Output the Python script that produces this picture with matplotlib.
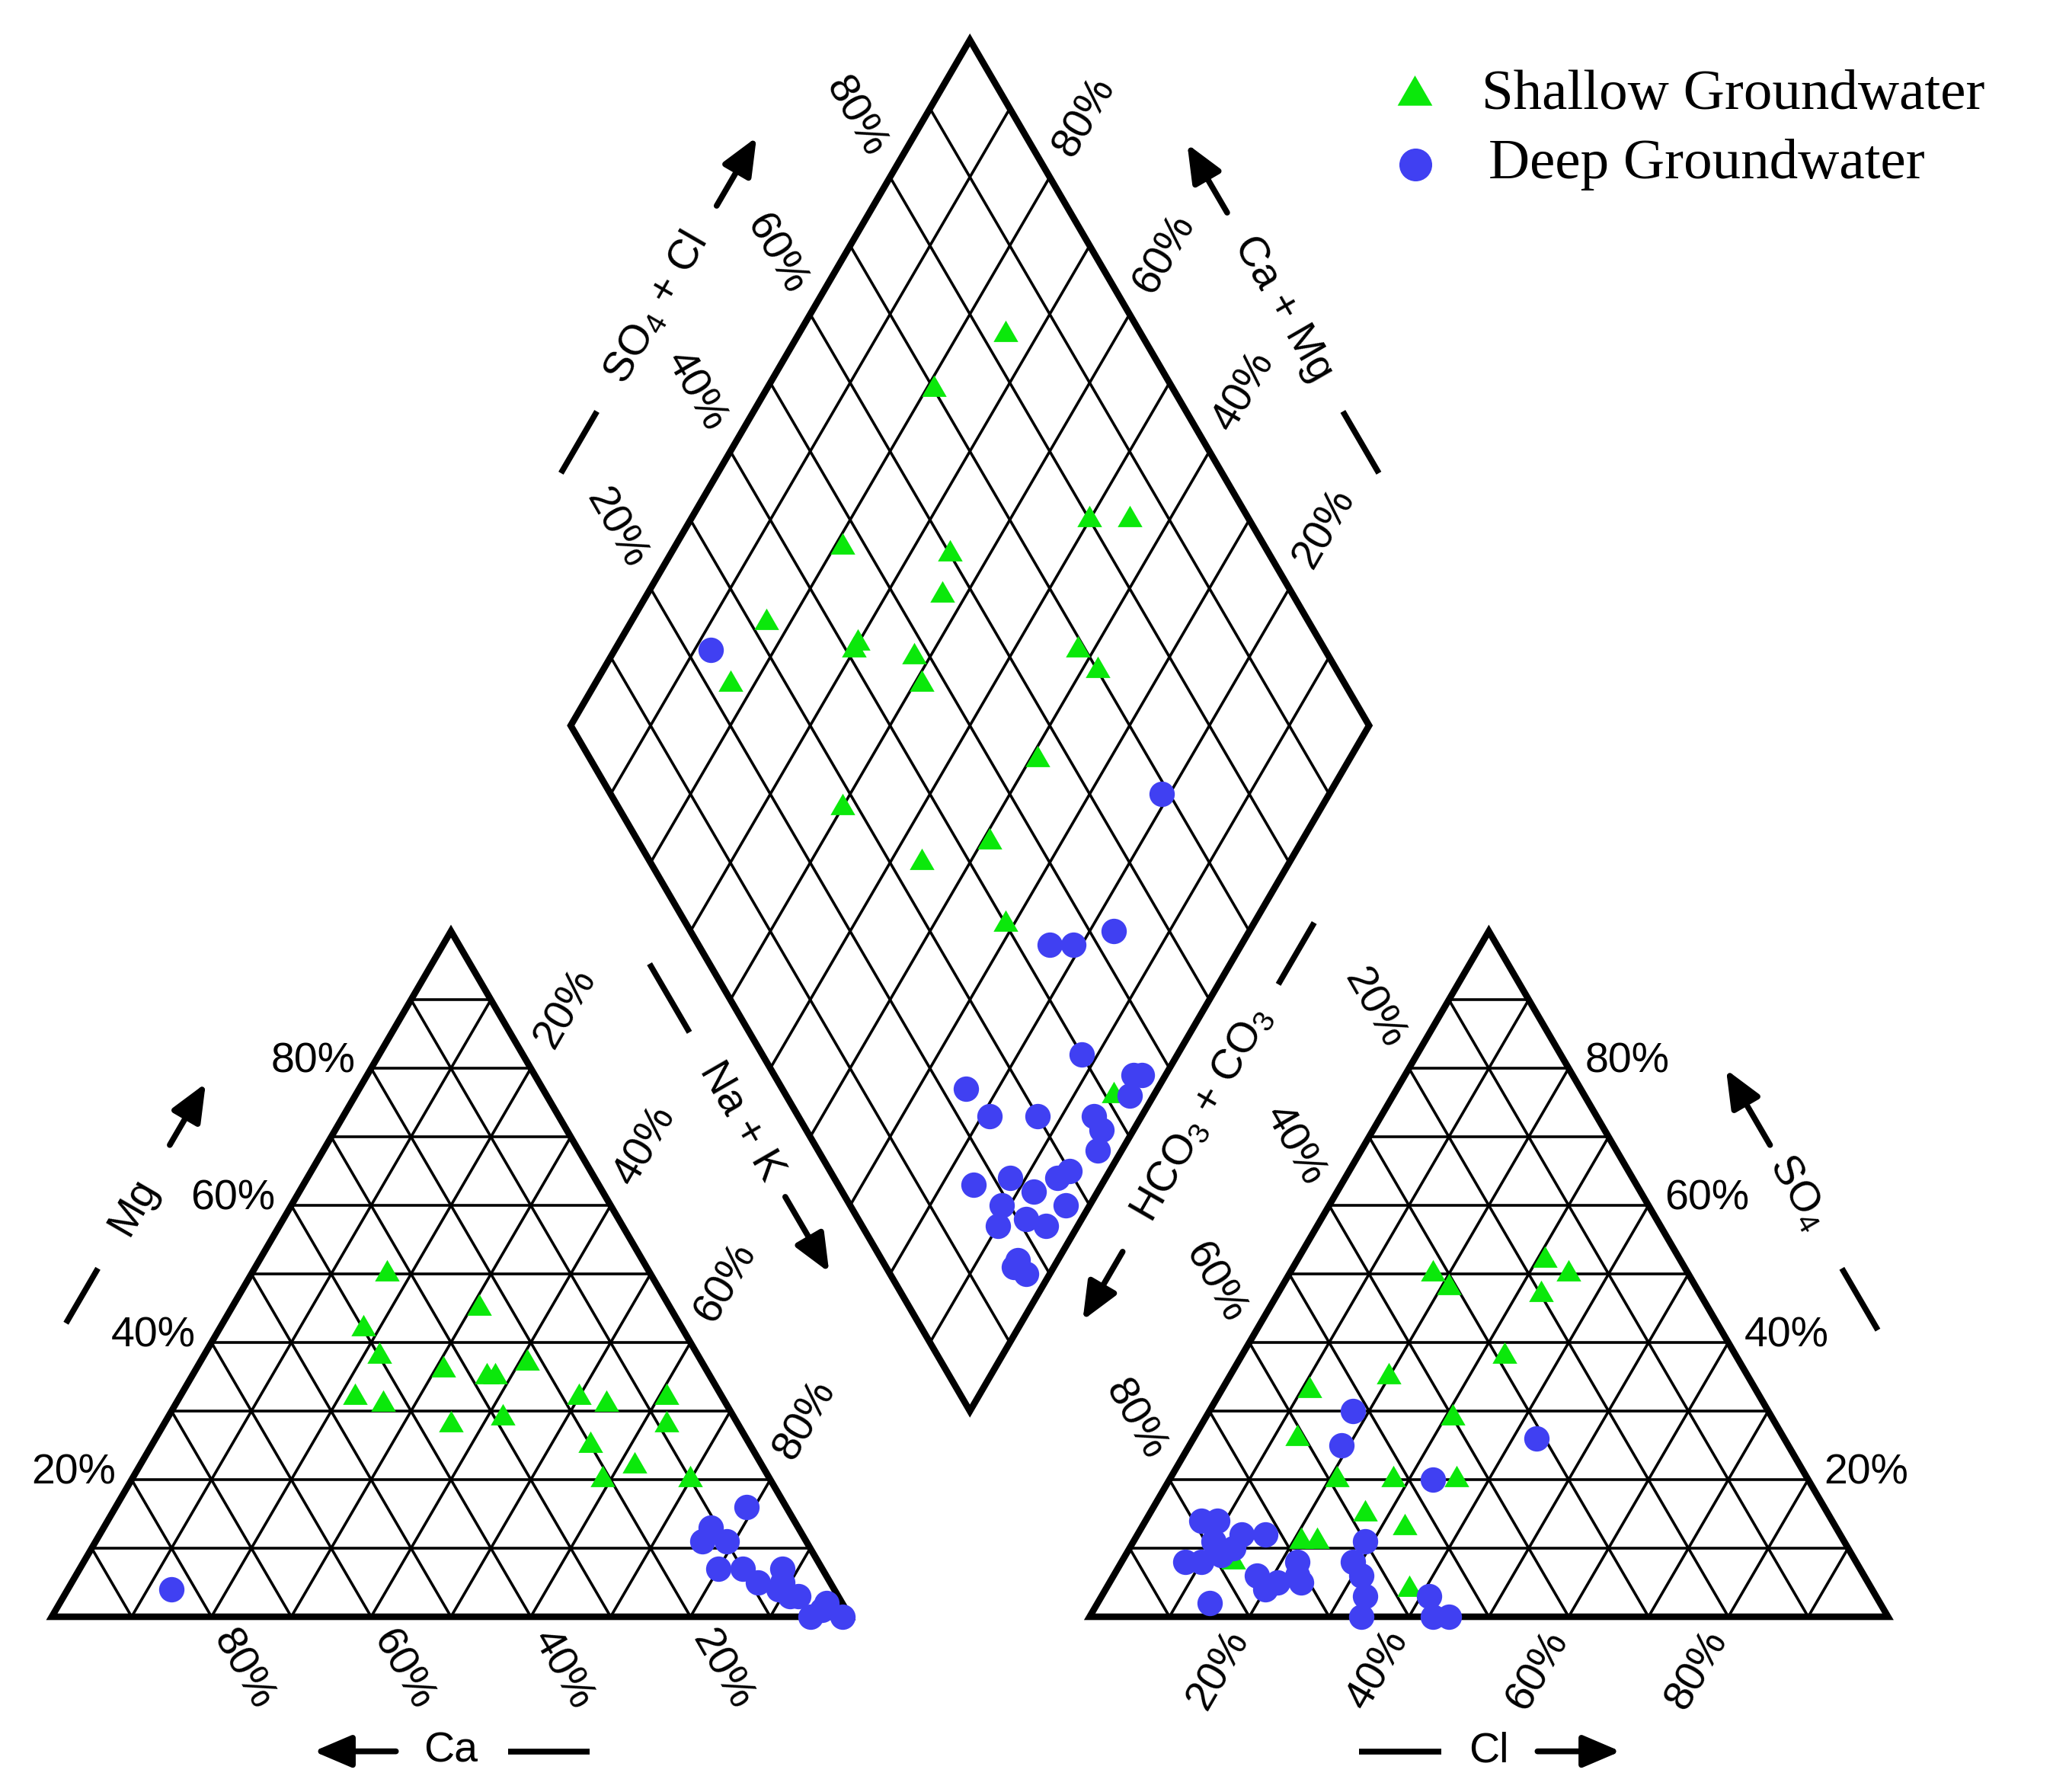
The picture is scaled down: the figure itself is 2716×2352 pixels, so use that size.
import numpy as np
import matplotlib.pyplot as plt
from matplotlib.patches import Polygon

plt.rcParams['font.family'] = ['Liberation Sans', 'DejaVu Sans']
plt.rcParams['mathtext.default'] = 'regular'

# cation triangle, percent
shallow_ca = [33, 24, 40, 40, 33, 28, 27, 22, 46, 43, 36, 29, 18, 15, 7, 9, 20, 16, 21, 10]
shallow_mg = [50, 45, 42, 38, 36, 35, 35, 37, 32, 31, 28, 29, 32, 31, 32, 28, 25, 22, 20, 20]
deep_ca = [83, 5, 11, 13, 10, 13, 10, 5, 7, 5, 3, 1, 5, 6, 9, 6, 2]
deep_mg = [4, 16, 13, 11, 11, 7, 7, 7, 4, 3, 1, 0, 0, 5, 5, 3, 2]

# anion triangle, percent
shallow_cl = [18, 21, 31, 35, 33, 33, 20, 11, 31, 13, 21, 28, 36, 27, 33, 21, 23, 14, 38]
shallow_so4 = [50, 48, 52, 50, 47, 38, 35, 33, 29, 26, 20, 20, 20, 15, 13, 11, 11, 8, 4]
deep_cl = [18, 19, 43, 33, 7, 9, 13, 16, 8, 10, 12, 10, 13, 14, 18, 20, 22, 23, 24, 21,
           29, 29, 31, 33, 34, 41, 43, 45]
deep_so4 = [30, 25, 26, 20, 14, 14, 12, 12, 8, 8, 9, 11, 10, 2, 6, 4, 8, 6, 5, 5,
            11, 8, 6, 3, 0, 3, 0, 0]

# diamond, percent (Na+K, SO4+Cl)
shallow_nak = [26, 21, 50, 55, 21, 35, 37, 17, 30, 30, 38, 58, 62, 17, 41, 61, 40, 61, 54, 69, 95]
shallow_so4cl = [83, 70, 80, 85, 47, 60, 56, 32, 42, 41, 48, 69, 70, 23, 47, 56, 28, 44, 34, 40, 41]
deep_nak = [12, 79, 83, 76, 79, 88, 96, 97, 97, 76, 81, 87, 94, 96, 97, 84, 88, 89, 90, 92,
            94, 95, 97, 96, 93, 95, 95, 97]
deep_so4cl = [23, 69, 53, 44, 47, 40, 45, 46, 43, 23, 24, 30, 37, 37, 35, 17, 22, 19, 17, 24,
              28, 30, 27, 23, 21, 17, 16, 17]

ticks = [20, 40, 60, 80]
legend_labels = ['Shallow Groundwater', 'Deep Groundwater']

SHALLOW_C = '#0be80b'
DEEP_C = '#4040f2'

H = np.sqrt(3) / 2
GAP = 0.3
XA = 1 + GAP                      # left corner of the anion triangle
B = np.array([1 + GAP / 2, GAP * H])   # diamond bottom
L = B + np.array([-0.5, H])
R = B + np.array([0.5, H])
T = L + R - B


def cation_xy(ca, mg):
    ca = np.asarray(ca) / 100
    mg = np.asarray(mg) / 100
    na = 1 - ca - mg
    return na + 0.5 * mg, H * mg


def anion_xy(cl, so4):
    cl = np.asarray(cl) / 100
    so4 = np.asarray(so4) / 100
    return XA + cl + 0.5 * so4, H * so4


def diamond_xy(nak, so4cl):
    a = 1 - np.asarray(nak) / 100
    b = np.asarray(so4cl) / 100
    p = B[:, None] + np.outer(L - B, a) + np.outer(R - B, b)
    return p[0], p[1]


fig = plt.figure(figsize=(27.16, 23.52), dpi=100)
ax = fig.add_axes([0, 0, 1, 1])
ax.set_xlim(-68 / 1048, (2716 - 68) / 1048)
ax.set_ylim(-(2352 - 2122) / 1039, 2122 / 1039)
ax.axis('off')

GRID = dict(color='black', lw=2.6, zorder=1)
EDGE = dict(fill=False, edgecolor='black', lw=6.2, joinstyle='miter', zorder=2)
FS = 40


def seg(p, q, **kw):
    ax.plot([p[0], q[0]], [p[1], q[1]], **kw)


def draw_triangle(x0):
    for f in np.arange(0.1, 0.95, 0.1):
        seg((x0 + 0.5 * f, H * f), (x0 + 1 - 0.5 * f, H * f), **GRID)
        seg((x0 + f, 0), (x0 + f + 0.5 * (1 - f), H * (1 - f)), **GRID)
        seg((x0 + f, 0), (x0 + 0.5 * f, H * f), **GRID)
    ax.add_patch(Polygon([(x0, 0), (x0 + 1, 0), (x0 + 0.5, H)], closed=True, **EDGE))


draw_triangle(0)
draw_triangle(XA)
for f in np.arange(0.1, 0.95, 0.1):
    seg(B + f * (R - B), L + f * (R - B), **GRID)
    seg(B + f * (L - B), R + f * (L - B), **GRID)
ax.add_patch(Polygon([B, R, T, L], closed=True, **EDGE))


def tick_label(p, direction, text, rot, d):
    u = np.asarray(direction, float)
    u = u / np.linalg.norm(u)
    q = np.asarray(p) + d * u
    ax.text(q[0], q[1], text, rotation=rot, rotation_mode='anchor',
            ha='center', va='center', fontsize=FS)


for v in ticks:
    f = v / 100
    s = f'{v}%'
    # cation triangle
    tick_label((1 - f, 0), (0.5, -H), s, -60, 0.078)
    ax.text(0.5 * f - 0.02, H * f + 0.008, s, ha='right', va='center', fontsize=FS)
    tick_label((f + 0.5 * (1 - f), H * (1 - f)), (0.5, H), s, 60, 0.087)
    # anion triangle
    tick_label((XA + f, 0), (-0.5, -H), s, 60, 0.078)
    ax.text(XA + 1 - 0.5 * f + 0.02, H * f + 0.008, s, ha='left', va='center', fontsize=FS)
    tick_label((XA + 0.5 * (1 - f), H * (1 - f)), (-0.5, H), s, -60, 0.087)
    # diamond
    tick_label(L + f * (R - B), (-0.5, H), s, -60, 0.087)
    tick_label(R + f * (L - B), (0.5, H), s, 60, 0.087)


def side_title(A, Bp, normal, text, rot, off, t_text, dash, arrow):
    A = np.asarray(A, float)
    Bp = np.asarray(Bp, float)
    n = np.asarray(normal, float)
    n = n / np.linalg.norm(n)

    def pt(t):
        return A + t * (Bp - A) + off * n

    q = pt(t_text)
    ax.text(q[0], q[1], text, rotation=rot, rotation_mode='anchor',
            ha='center', va='center', fontsize=FS)
    seg(pt(dash[0]), pt(dash[1]), color='black', lw=5.5, solid_capstyle='butt')
    ax.annotate('', xy=pt(arrow[1]), xytext=pt(arrow[0]),
                arrowprops=dict(arrowstyle='-|>,head_length=0.75,head_width=0.32',
                                lw=5.5, color='black', mutation_scale=40,
                                shrinkA=0, shrinkB=0))


side_title((0, 0), (0.5, H), (-H, 0.5), 'Mg', 60, 0.17, 0.5, (0.33, 0.41), (0.59, 0.68))
side_title((1, 0), (0, 0), (0, -1), 'Ca', 0, 0.17, 0.5, (0.326, 0.428), (0.569, 0.672))
side_title((XA + 1, 0), (XA + 0.5, H), (H, 0.5), 'SO$_4$', -60, 0.17, 0.52,
           (0.32, 0.41), (0.59, 0.70))
side_title((XA, 0), (XA + 1, 0), (0, -1), 'Cl', 0, 0.17, 0.5, (0.337, 0.44), (0.561, 0.665))
side_title(L, T, (-H, 0.5), 'SO$_4$ + Cl', 60, 0.17, 0.51, (0.27, 0.36), (0.66, 0.76))
side_title(R, T, (H, 0.5), 'Ca + Mg', -60, 0.17, 0.51, (0.27, 0.36), (0.65, 0.75))
side_title(L, B, (-H, -0.5), 'Na + K', -60, 0.065, 0.54, (0.31, 0.41), (0.65, 0.76))
side_title(R, B, (H, -0.5), 'HCO$_3$ + CO$_3$', 60, 0.065, 0.53, (0.25, 0.34), (0.73, 0.83))

TRI = dict(marker=(3, 0, 0), ms=27, color=SHALLOW_C, mew=0, ls='none', zorder=3)
DOT = dict(marker='o', ms=24, color=DEEP_C, mew=0, ls='none', zorder=4)

ax.plot(*cation_xy(shallow_ca, shallow_mg), **TRI)
ax.plot(*anion_xy(shallow_cl, shallow_so4), **TRI)
ax.plot(*diamond_xy(shallow_nak, shallow_so4cl), **TRI)
ax.plot(*cation_xy(deep_ca, deep_mg), **DOT)
ax.plot(*anion_xy(deep_cl, deep_so4), **DOT)
ax.plot(*diamond_xy(deep_nak, deep_so4cl), **DOT)

# legend
ax.plot([0.6837], [0.9469], transform=ax.transAxes, clip_on=False, **dict(TRI, ms=38))
ax.plot([0.6841], [0.908], transform=ax.transAxes, clip_on=False, **dict(DOT, ms=31))
ax.text(0.7161, 0.9469, legend_labels[0], transform=ax.transAxes, fontsize=54,
        family='Liberation Serif', va='center', ha='left')
ax.text(0.7194, 0.908, legend_labels[1], transform=ax.transAxes, fontsize=54,
        family='Liberation Serif', va='center', ha='left')

fig.savefig('out.png', dpi=100)
